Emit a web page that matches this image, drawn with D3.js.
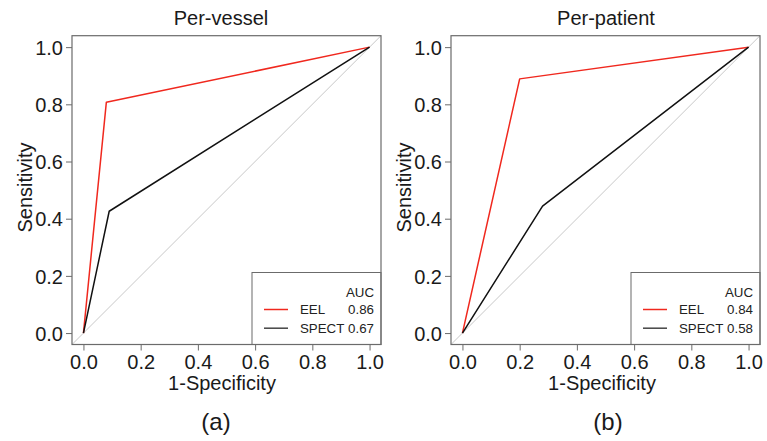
<!DOCTYPE html>
<html><head><meta charset="utf-8">
<script src="https://cdn.jsdelivr.net/npm/d3@7"></script>
<style>
html,body{margin:0;padding:0;background:#fff;}
svg text{font-family:Arial,"Liberation Sans",sans-serif;}
</style></head>
<body><svg id="chart" width="767" height="441"></svg>
<script>
// ---- data ----
const panelTitles = ["Per-vessel", "Per-patient"];
const panelLetters = ["(a)", "(b)"];
const seriesNames = ["EEL", "SPECT"];
const seriesColors = ["#f0281e", "#111111"];
const legendColors = ["#f0281e", "#444444"];
const vesselEEL_fpr = [0, 0.08, 1];
const vesselEEL_tpr = [0, 0.807, 1];
const vesselSPECT_fpr = [0, 0.09, 1];
const vesselSPECT_tpr = [0, 0.426, 1];
const patientEEL_fpr = [0, 0.2, 1];
const patientEEL_tpr = [0, 0.889, 1];
const patientSPECT_fpr = [0, 0.28, 1];
const patientSPECT_tpr = [0, 0.444, 1];
const vesselAUC = ["0.86", "0.67"];
const patientAUC = ["0.84", "0.58"];
const tickValues = [0, 0.2, 0.4, 0.6, 0.8, 1.0];
const tickLabels = ["0.0", "0.2", "0.4", "0.6", "0.8", "1.0"];

const panels = [
  {title: panelTitles[0], letter: panelLetters[0], auc: vesselAUC,
   series: [[vesselEEL_fpr, vesselEEL_tpr], [vesselSPECT_fpr, vesselSPECT_tpr]],
   left: 72, right: 381, titleCx: 221, xlabCx: 222, letterCx: 216, legLeft: 252},
  {title: panelTitles[1], letter: panelLetters[1], auc: patientAUC,
   series: [[patientEEL_fpr, patientEEL_tpr], [patientSPECT_fpr, patientSPECT_tpr]],
   left: 451, right: 760, titleCx: 606, xlabCx: 602, letterCx: 608, legLeft: 631}
];

const svg = d3.select("#chart");
const plotTop = 35.7, plotBottom = 344.5;
const frameColor = "#6b6b6b";
const textColor = "#1a1a1a";
const bigFont = 20;

panels.forEach(p => {
  const g = svg.append("g");
  const x = d3.scaleLinear().domain([-0.04, 1.04]).range([p.left, p.right]);
  const y = d3.scaleLinear().domain([-0.04, 1.04]).range([plotBottom, plotTop]);

  // diagonal reference line
  g.append("line")
    .attr("x1", x(-0.04)).attr("y1", y(-0.04))
    .attr("x2", x(1.04)).attr("y2", y(1.04))
    .attr("stroke", "#c8c8c8").attr("stroke-width", 1);

  // ROC curves
  const line = d3.line().x(d => x(d[0])).y(d => y(d[1]));
  p.series.forEach((s, i) => {
    const pts = s[0].map((v, k) => [v, s[1][k]]);
    g.append("path").datum(pts).attr("d", line)
      .attr("fill", "none").attr("stroke", seriesColors[i])
      .attr("stroke-width", 1.5).attr("stroke-linejoin", "round");
  });

  // legend box
  const legTop = 272.5;
  g.append("rect").attr("x", p.legLeft).attr("y", legTop)
    .attr("width", p.right - p.legLeft).attr("height", plotBottom - legTop)
    .attr("fill", "#fff").attr("stroke", frameColor).attr("stroke-width", 1);
  const legFont = 13.3;
  g.append("text").attr("x", p.right - 7).attr("y", legTop + 24)
    .attr("text-anchor", "end").attr("font-size", legFont).attr("fill", "#222").text("AUC");
  seriesNames.forEach((n, i) => {
    const yy = legTop + 37 + i * 18.7;
    g.append("line").attr("x1", p.legLeft + 12).attr("x2", p.legLeft + 36)
      .attr("y1", yy).attr("y2", yy).attr("stroke", legendColors[i]).attr("stroke-width", 1.5);
    g.append("text").attr("x", p.legLeft + 48).attr("y", yy + 4.8)
      .attr("font-size", legFont).attr("fill", "#222").text(n);
    g.append("text").attr("x", p.right - 7).attr("y", yy + 4.8)
      .attr("text-anchor", "end").attr("font-size", legFont).attr("fill", "#222").text(p.auc[i]);
  });

  // frame
  g.append("rect").attr("x", p.left).attr("y", plotTop)
    .attr("width", p.right - p.left).attr("height", plotBottom - plotTop)
    .attr("fill", "none").attr("stroke", frameColor).attr("stroke-width", 1.2);

  // axes
  const xAxis = d3.axisBottom(x).tickValues(tickValues).tickFormat((d, i) => tickLabels[i])
    .tickSize(6).tickSizeOuter(0).tickPadding(4);
  const ax = g.append("g").attr("transform", `translate(0,${plotBottom})`).call(xAxis);
  const yAxis = d3.axisLeft(y).tickValues(tickValues).tickFormat((d, i) => tickLabels[i])
    .tickSize(6).tickSizeOuter(0).tickPadding(3);
  const ay = g.append("g").attr("transform", `translate(${p.left},0)`).call(yAxis);
  [ax, ay].forEach(a => {
    a.select(".domain").remove();
    a.selectAll(".tick line").attr("stroke", frameColor).attr("stroke-width", 1);
    a.selectAll(".tick text").attr("font-size", bigFont).attr("fill", textColor)
      .style("font-family", "Arial, 'Liberation Sans', sans-serif");
  });
  ay.selectAll(".tick text").attr("dy", "0.36em");

  // titles
  g.append("text").attr("x", p.titleCx).attr("y", 25).attr("text-anchor", "middle")
    .attr("font-size", bigFont).attr("fill", textColor).text(p.title);
  g.append("text").attr("x", p.xlabCx).attr("y", 390).attr("text-anchor", "middle")
    .attr("font-size", bigFont).attr("fill", textColor).text("1-Specificity");
  g.append("text").attr("transform", `translate(${p.left - 40},187.5) rotate(-90)`)
    .attr("text-anchor", "middle").attr("font-size", bigFont).attr("fill", textColor).text("Sensitivity");
  g.append("text").attr("x", p.letterCx).attr("y", 430).attr("text-anchor", "middle")
    .attr("font-size", 24).attr("fill", textColor).text(p.letter);
});
</script></body></html>
